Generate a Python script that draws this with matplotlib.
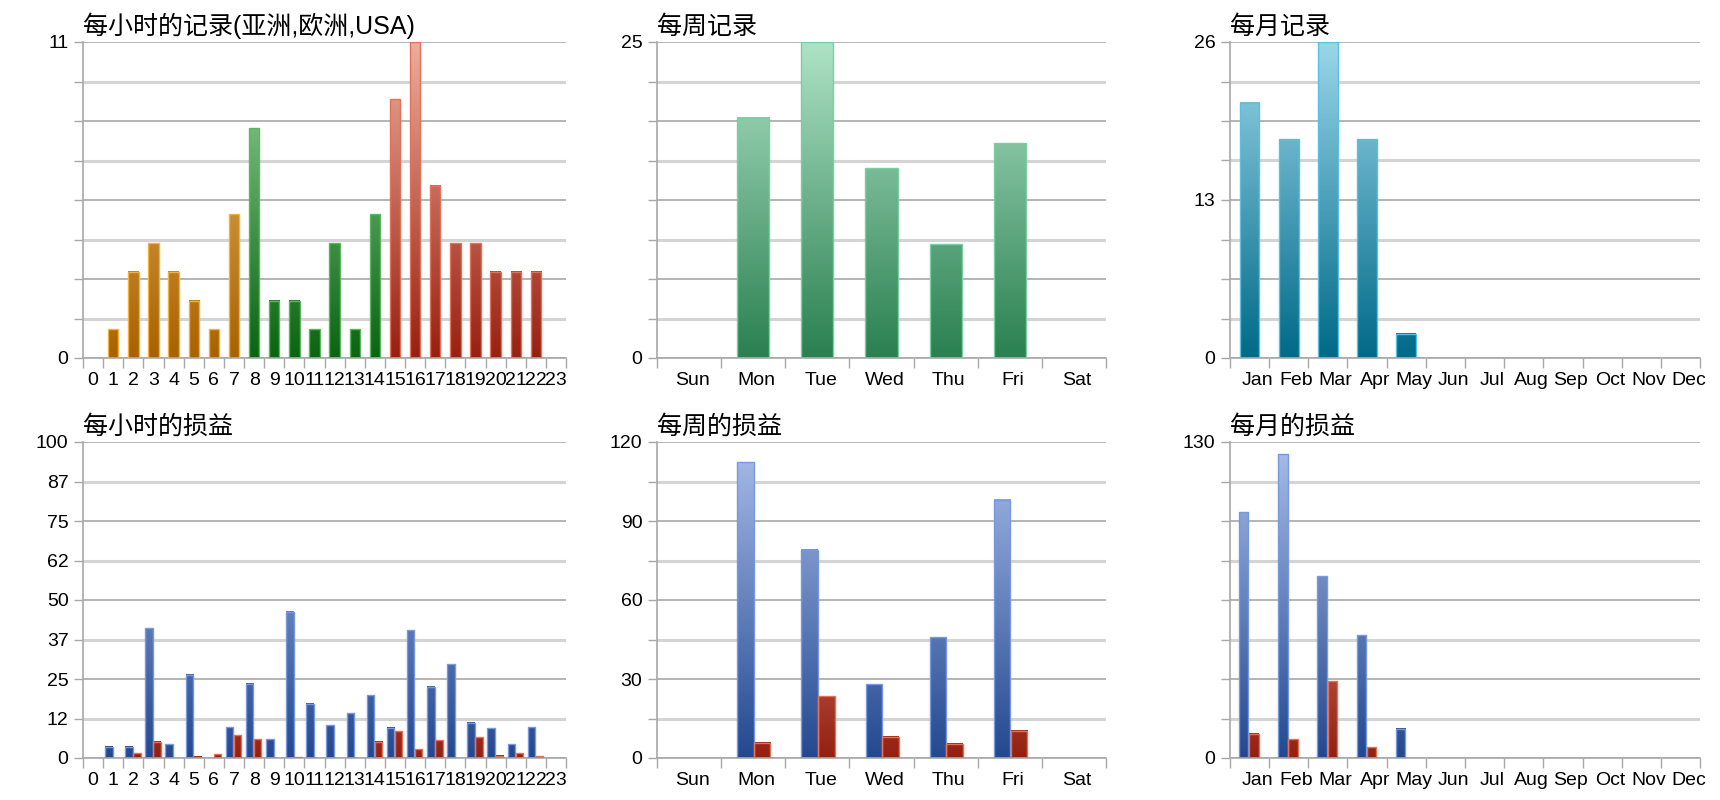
import numpy as np
import matplotlib
matplotlib.use('Agg')
import matplotlib.pyplot as plt
from matplotlib.colors import LinearSegmentedColormap

plt.rcParams['font.family'] = ['Liberation Sans', 'Noto Sans CJK SC']

# ---- data ----
hours = [str(h) for h in range(24)]
hour_records = [0, 1, 3, 4, 3, 2, 1, 5, 8, 2, 2, 1, 4, 1, 5, 9, 11, 6, 4, 4, 3, 3, 3, 0]
hour_region = ['asia'] * 8 + ['europe'] * 7 + ['usa'] * 9
hour_profit = [0, 3.5, 3.5, 41.1, 4.4, 26.3, 0, 9.8, 23.5, 6.0, 46.3, 17.1,
               10.4, 14.1, 19.9, 9.5, 40.5, 22.6, 29.7, 11.1, 9.4, 4.3, 9.8, 0]
hour_loss = [0, 0, 1.5, 5.2, 0, 0.4, 1.2, 7.2, 6.0, 0, 0.3, 0,
             0, 0, 5.2, 8.4, 2.8, 5.6, 0, 6.6, 0.7, 1.5, 0.5, 0]

days = ['Sun', 'Mon', 'Tue', 'Wed', 'Thu', 'Fri', 'Sat']
day_records = [0, 19, 25, 15, 9, 17, 0]
day_profit = [0, 112.3, 79.0, 28.1, 45.8, 98.1, 0]
day_loss = [0, 5.8, 23.4, 8.0, 5.4, 10.4, 0]

months = ['Jan', 'Feb', 'Mar', 'Apr', 'May', 'Jun', 'Jul', 'Aug', 'Sep', 'Oct', 'Nov', 'Dec']
month_records = [21, 18, 26, 18, 2, 0, 0, 0, 0, 0, 0, 0]
month_profit = [101.2, 125.0, 74.8, 50.6, 12.1, 0, 0, 0, 0, 0, 0, 0]
month_loss = [9.9, 7.7, 31.6, 4.4, 0, 0, 0, 0, 0, 0, 0, 0]

hour_rec_ylabels = ['0', '', '', '', '', '', '', '', '11']
day_rec_ylabels = ['0', '', '', '', '', '', '', '', '25']
month_rec_ylabels = ['0', '', '', '', '13', '', '', '', '26']
hour_pl_ylabels = ['0', '12', '25', '37', '50', '62', '75', '87', '100']
day_pl_ylabels = ['0', '', '30', '', '60', '', '90', '', '120']
month_pl_ylabels = ['0', '', '', '', '', '', '', '', '130']

# ---- styles ----
def ramp(bottom, top):
    return LinearSegmentedColormap.from_list('g', [bottom, top])

styles = {
    'asia': (ramp('#A86200', '#F2C070'), '#F5B040'),
    'europe': (ramp('#0A6410', '#96D79E'), '#5CB860'),
    'usa': (ramp('#982010', '#EEAC9A'), '#E87058'),
    'week': (ramp('#2A8050', '#AEE2C6'), '#78D0A0'),
    'month': (ramp('#006A88', '#9AD6EA'), '#58C0E0'),
    'profit': (ramp('#244890', '#A8BEEA'), '#7898E0'),
    'loss': (ramp('#942010', '#F0B8A8'), '#E87058'),
}
GRID_DARK = '#A8A8A8'
GRID_LIGHT = '#D4D4D4'
TICK_SIZE = 14


def draw_bars(ax, x, heights, width, ymax, style):
    cmap, edge = styles[style]
    bars = ax.bar(x, heights, width, facecolor='none',
                  edgecolor=[edge if h > 0 else 'none' for h in heights],
                  linewidth=1, zorder=3)
    for rect in bars:
        h = rect.get_height()
        if h <= 0:
            continue
        x0, w = rect.get_x(), rect.get_width()
        grad = np.linspace(0, h, 100).reshape(-1, 1)
        ax.imshow(grad, extent=(x0, x0 + w, 0, h), origin='lower', aspect='auto',
                  cmap=cmap, vmin=0, vmax=ymax, zorder=2, interpolation='bilinear')


def style_axes(ax, labels, ymax, ylabels, title, label_shift=0.0):
    n = len(labels)
    ax.set_xlim(-0.5, n - 0.5)
    ax.set_ylim(0, ymax)
    yt = np.linspace(0, ymax, 9)
    for k, y in enumerate(yt):
        if k % 2 == 0:
            ax.axhline(y, color=GRID_DARK, lw=1.2, zorder=1)
        else:
            ax.axhline(y, color=GRID_LIGHT, lw=2.2, zorder=1)
    ax.set_yticks(yt)
    ax.set_yticklabels(ylabels)
    ax.tick_params(axis='y', length=6.5, width=1, color=GRID_DARK, pad=4, labelsize=TICK_SIZE)
    ax.set_xticks(np.arange(n) + label_shift)
    ax.set_xticklabels(labels)
    ax.set_xticks(np.arange(n + 1) - 0.5, minor=True)
    ax.tick_params(axis='x', which='major', length=0, pad=10, labelsize=TICK_SIZE)
    ax.tick_params(axis='x', which='minor', length=7, width=1, color=GRID_DARK)
    for s in ['top', 'right']:
        ax.spines[s].set_visible(False)
    for s in ['left', 'bottom']:
        ax.spines[s].set_color(GRID_DARK)
        ax.spines[s].set_linewidth(1.2)
    ax.set_title(title, loc='left', fontsize=18, pad=6)


fig = plt.figure(figsize=(17.2, 8), dpi=100)
cols = [(0.0483, 0.2808), (0.382, 0.261), (0.7151, 0.2733)]
rows = [0.5525, 0.0525]
axh = 0.395
axes = [[fig.add_axes([c[0], r, c[1], axh]) for c in cols] for r in rows]

# hourly records
ax = axes[0][0]
xh = np.arange(24)
for region in ['asia', 'europe', 'usa']:
    vals = [v if hour_region[i] == region else 0 for i, v in enumerate(hour_records)]
    draw_bars(ax, xh, vals, 0.52, 11, region)
style_axes(ax, hours, 11, hour_rec_ylabels, '每小时的记录(亚洲,欧洲,USA)')

# weekly records
ax = axes[0][1]
xd = np.arange(7)
draw_bars(ax, xd, day_records, 0.5, 25, 'week')
style_axes(ax, days, 25, day_rec_ylabels, '每周记录', 0.05)

# monthly records
ax = axes[0][2]
xm = np.arange(12)
draw_bars(ax, xm, month_records, 0.5, 26, 'month')
style_axes(ax, months, 26, month_rec_ylabels, '每月记录', 0.2)

# hourly profit / loss
ax = axes[1][0]
draw_bars(ax, xh - 0.22, hour_profit, 0.37, 100, 'profit')
draw_bars(ax, xh + 0.18, hour_loss, 0.37, 100, 'loss')
style_axes(ax, hours, 100, hour_pl_ylabels, '每小时的损益')

# weekly profit / loss
ax = axes[1][1]
draw_bars(ax, xd - 0.12, day_profit, 0.257, 120, 'profit')
draw_bars(ax, xd + 0.14, day_loss, 0.257, 120, 'loss')
style_axes(ax, days, 120, day_pl_ylabels, '每周的损益', 0.05)

# monthly profit / loss
ax = axes[1][2]
draw_bars(ax, xm - 0.15, month_profit, 0.24, 130, 'profit')
draw_bars(ax, xm + 0.11, month_loss, 0.24, 130, 'loss')
style_axes(ax, months, 130, month_pl_ylabels, '每月的损益', 0.2)

fig.savefig('out.png', dpi=100)
